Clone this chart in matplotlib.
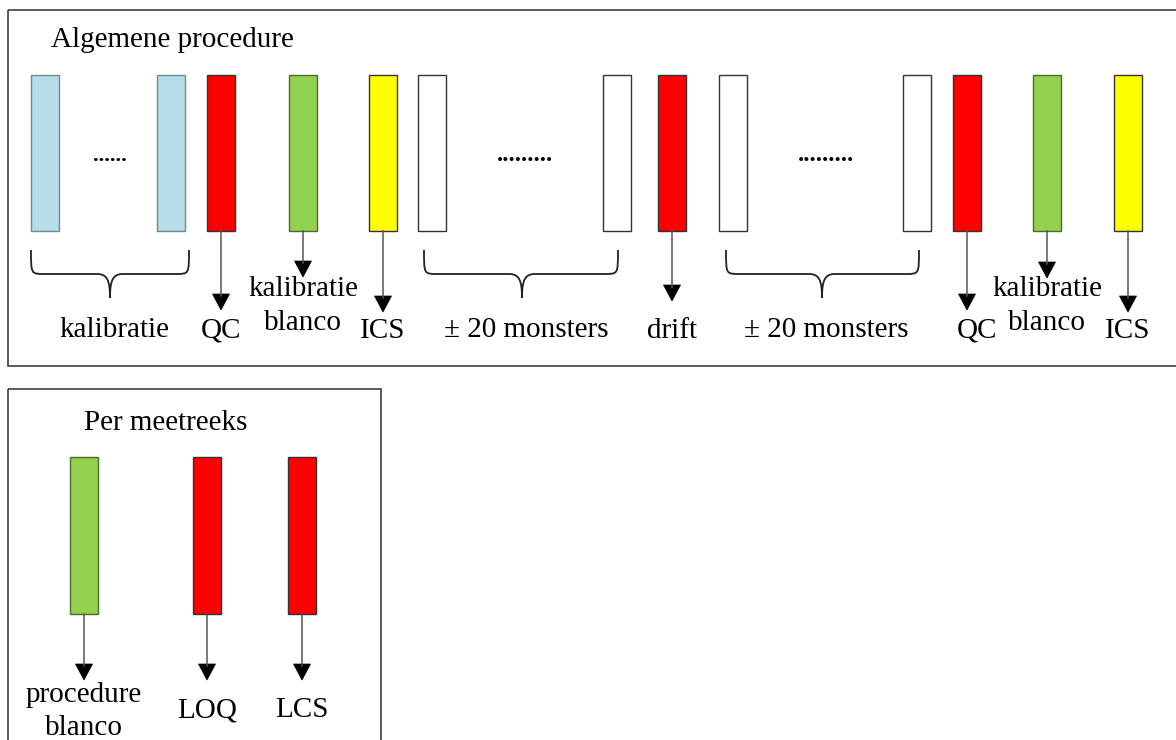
import matplotlib.pyplot as plt
from matplotlib.patches import Rectangle, Polygon, PathPatch
from matplotlib.path import Path

plt.rcParams['font.family'] = ['Liberation Serif', 'DejaVu Serif']

# ---------------------------------------------------------------------------
# data: sample sequence of the general procedure and per measurement series
# ---------------------------------------------------------------------------
BLUE, RED, GREEN, YELLOW, WHITE = '#B7DDE8', '#FF0000', '#92D050', '#FFFF00', '#FFFFFF'

top_colors = [BLUE, BLUE, RED, GREEN, YELLOW, WHITE, WHITE, RED, WHITE, WHITE, RED, GREEN, YELLOW]
top_labels = [None, None, 'QC', 'kalibratie\nblanco', 'ICS', None, None, 'drift',
              None, None, 'QC', 'kalibratie\nblanco', 'ICS']
group_labels = ['kalibratie', '± 20 monsters', '± 20 monsters']
group_dots = ['......', '.........', '.........']

bottom_colors = [GREEN, RED, RED]
bottom_labels = ['procedure\nblanco', 'LOQ', 'LCS']

# ---------------------------------------------------------------------------
# layout (pixel coordinates, y pointing down)
# ---------------------------------------------------------------------------
top_left = [31, 157, 207, 289, 369, 418, 603, 658, 719, 903, 953, 1033, 1114]
top_arrow_tip = [None, None, 310, 277, 312, None, None, 301, None, None, 310, 278, 312]
top_label_dx = [0, 0, 0, 0, 0, 0, 0, 0, 0, 0, 10, 0, 0]
group_span = [(31, 189, 110), (424, 618, 522), (726, 919, 822)]
dots_x = [110, 525, 826]
dots_size = [16, 18, 18]

bottom_left = [70, 193, 288]

BAR_W = 28
EDGE = {BLUE: '#6f8a92', GREEN: '#4f6a2a'}


def arrow(ax, x, y0, y1):
    ax.plot([x, x], [y0, y1 - 14], color='#555555', lw=1.1)
    ax.add_patch(Polygon([[x - 8.5, y1 - 16], [x + 8.5, y1 - 16], [x, y1]],
                         closed=True, fc='black', ec='black', lw=0.5))


def brace(ax, x0, x1, xc, yt=250, ym=274, yb=298, r=13):
    verts = [(x0, yt), (x0, ym), (x0, ym), (x0 + r, ym),
             (xc - r, ym),
             (xc - 3, ym), (xc, ym + 6), (xc, yb),
             (xc, ym + 6), (xc + 3, ym), (xc + r, ym),
             (x1 - r, ym),
             (x1, ym), (x1, ym), (x1, yt)]
    codes = [Path.MOVETO, Path.CURVE4, Path.CURVE4, Path.CURVE4,
             Path.LINETO,
             Path.CURVE4, Path.CURVE4, Path.CURVE4,
             Path.CURVE4, Path.CURVE4, Path.CURVE4,
             Path.LINETO,
             Path.CURVE4, Path.CURVE4, Path.CURVE4]
    ax.add_patch(PathPatch(Path(verts, codes), fc='none', ec='#222222', lw=1.3))


fig = plt.figure(figsize=(11.76, 7.40), dpi=100)
ax = fig.add_axes([0, 0, 1, 1])
ax.set_xlim(0, 1176)
ax.set_ylim(740, 0)
ax.axis('off')

# frames (both run off the picture edge, as in the original)
ax.add_patch(Rectangle((8, 10), 1200, 356, fill=False, ec='#404040', lw=1.2))
ax.add_patch(Rectangle((8, 389), 373, 400, fill=False, ec='#404040', lw=1.2))

# --- Algemene procedure ---
ax.text(51, 47, 'Algemene procedure', fontsize=21, ha='left', va='baseline')

for i, col in enumerate(top_colors):
    ax.bar(top_left[i], 156, bottom=75, width=BAR_W, align='edge', color=col,
           edgecolor=EDGE.get(col, '#333333'), lw=1.0)
    xc = top_left[i] + BAR_W / 2
    if top_arrow_tip[i] is not None:
        arrow(ax, xc, 231, top_arrow_tip[i])
    lab = top_labels[i]
    if lab is None:
        continue
    if '\n' in lab:
        l1, l2 = lab.split('\n')
        ax.text(xc + top_label_dx[i], 296, l1, fontsize=21, ha='center', va='baseline')
        ax.text(xc + top_label_dx[i], 330, l2, fontsize=21, ha='center', va='baseline')
    else:
        ax.text(xc + top_label_dx[i], 338, lab, fontsize=21, ha='center', va='baseline')

for (x0, x1, xc), lab in zip(group_span, group_labels):
    brace(ax, x0, x1, xc)
    ax.text(xc + 4, 337, lab, fontsize=21, ha='center', va='baseline')

for x, d, s in zip(dots_x, group_dots, dots_size):
    ax.text(x, 161, d, fontsize=s, fontweight='bold', ha='center', va='baseline')

# --- Per meetreeks ---
ax.text(166, 430, 'Per meetreeks', fontsize=21, ha='center', va='baseline')

for i, col in enumerate(bottom_colors):
    ax.bar(bottom_left[i], 157, bottom=457, width=BAR_W, align='edge', color=col,
           edgecolor=EDGE.get(col, '#333333'), lw=1.0)
    xc = bottom_left[i] + BAR_W / 2
    arrow(ax, xc, 614, 680)
    lab = bottom_labels[i]
    if '\n' in lab:
        l1, l2 = lab.split('\n')
        ax.text(xc, 702, l1, fontsize=21, ha='center', va='baseline')
        ax.text(xc, 735, l2, fontsize=21, ha='center', va='baseline')
    else:
        ax.text(xc, 717, lab, fontsize=21, ha='center', va='baseline')

fig.savefig('out.png', dpi=100)
plt.close(fig)
